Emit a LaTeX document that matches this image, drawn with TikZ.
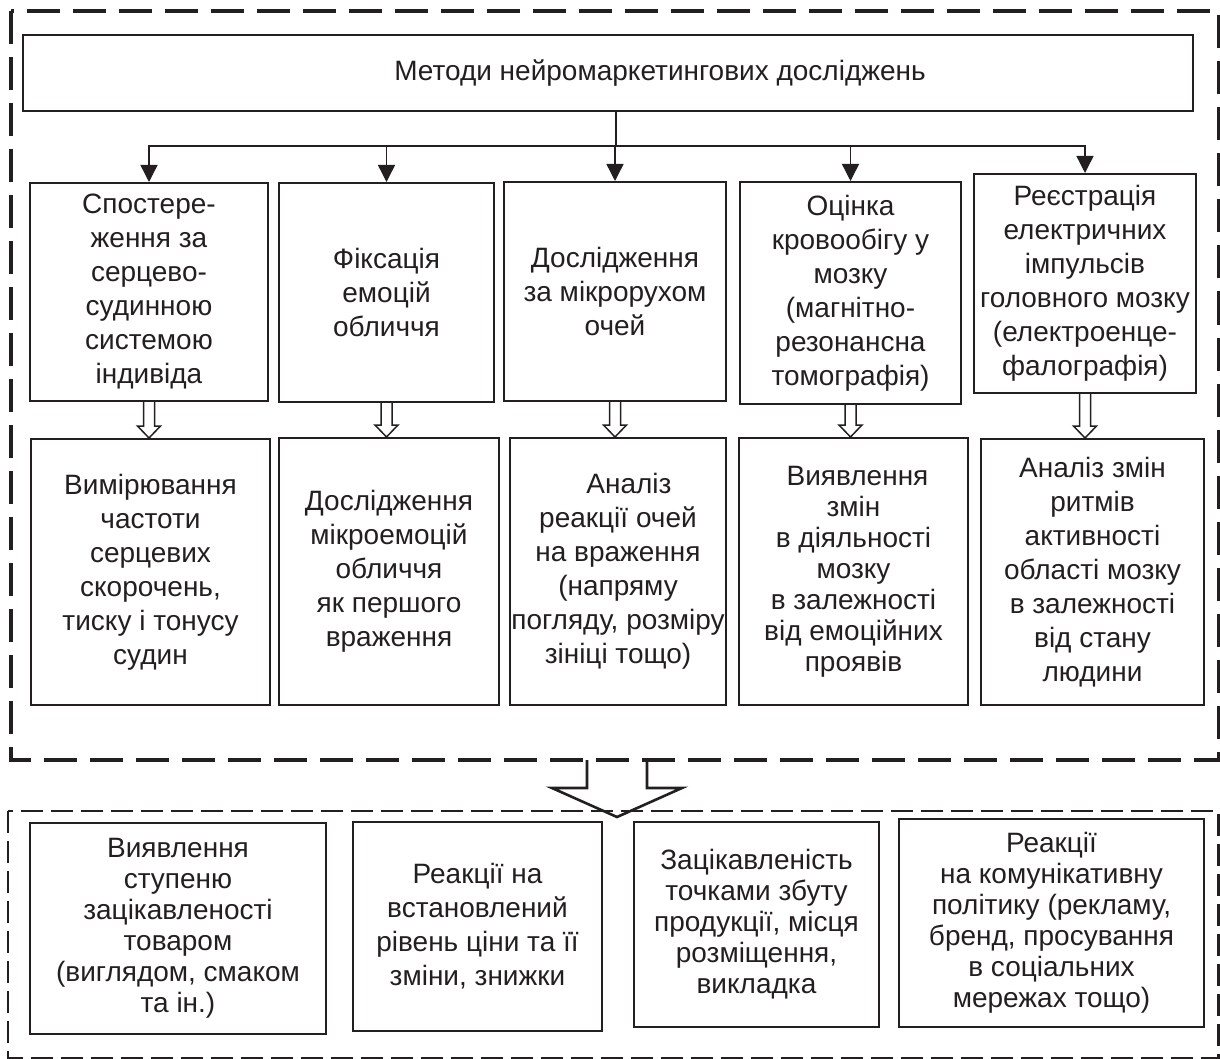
\documentclass[tikz,border=0pt]{standalone}
\usepackage{fontspec}
\setmainfont{Liberation Sans}
\usetikzlibrary{arrows.meta,calc}
\definecolor{ink}{RGB}{35,31,32}

\begin{document}
\begin{tikzpicture}[x=0.5pt,y=-0.5pt,
  every node/.style={text=ink},
  box/.style={draw=ink,line width=1pt,inner sep=2pt,align=center,
    font=\fontsize{14}{17}\selectfont},
  tight/.style={font=\fontsize{14}{15.5}\selectfont},
  feed/.style={draw=ink,line width=0.7pt,-{Triangle[length=8.5pt,width=8.5pt]}},
  hollow/.style n args={3}{draw=ink,to path={
    let \p1=(\tikztostart), \p2=(\tikztotarget) in
    (\x1-#1,\y1) -- (\x1-#1,\y2+#3) -- (\x1-#2,\y2+#3) -- (\x1,\y2)
    -- (\x1+#2,\y2+#3) -- (\x1+#1,\y2+#3) -- (\x1+#1,\y1)}},
]
  \useasboundingbox (0,0) rectangle (1220,1059);
  % the two dashed frames
  \draw[ink,line width=2pt,dash pattern=on 16.5pt off 6.5pt] (11,11) rectangle (1218.5,760);
  \draw[ink,line width=1.4pt,dash pattern=on 11pt off 4pt] (8,811) rectangle (1218.5,1058);

  \node[box,minimum width=585pt,minimum height=38pt] (top) at (608,73)
    {\hspace*{52pt}Методи нейромаркетингових досліджень};

  % methods
  \node[box,minimum width=119pt,minimum height=109pt] (s1) at (149,292)
    {Спостере-\\ження за\\серцево-\\судинною\\системою\\індивіда};
  \node[box,minimum width=107.5pt,minimum height=109.5pt] (s2) at (386.5,292.5)
    {Фіксація\\емоцій\\обличчя};
  \node[box,minimum width=111pt,minimum height=109.5pt] (s3) at (615,291.5)
    {Дослідження\\за мікрорухом\\очей};
  \node[box,minimum width=110.5pt,minimum height=111pt] (s4) at (850.5,293)
    {Оцінка\\кровообігу у\\мозку\\(магнітно-\\резонансна\\томографія)};
  \node[box,minimum width=111pt,minimum height=109.5pt] (s5) at (1085,283.5)
    {Реєстрація\\електричних\\імпульсів\\головного мозку\\(електроенце-\\фалографія)};

  % what is measured
  \node[box,minimum width=119.5pt,minimum height=133pt] (r1) at (150.5,572)
    {Вимірювання\\частоти\\серцевих\\скорочень,\\тиску і тонусу\\судин};
  \node[box,minimum width=110pt,minimum height=133.5pt] (r2) at (389,571.5)
    {Дослідження\\мікроемоцій\\обличчя\\як першого\\враження};
  \node[box,minimum width=108pt,minimum height=133.5pt] (r3) at (618,571.5)
    {\hspace*{11pt}Аналіз\\реакції очей\\на враження\\(напряму\\\makebox[100pt]{погляду, розміру}\\зініці тощо)};
  \node[box,tight,minimum width=114.5pt,minimum height=133.5pt] (r4) at (853.5,571.5)
    {\hspace*{4pt}Виявлення\\змін\\в діяльності\\мозку\\в залежності\\від емоційних\\проявів};
  \node[box,minimum width=111.5pt,minimum height=133pt] (r5) at (1092.5,572)
    {Аналіз змін\\ритмів\\активності\\області мозку\\в залежності\\від стану\\людини};

  % results
  \node[box,tight,minimum width=148pt,minimum height=105.5pt] (b1) at (178,928.5)
    {Виявлення\\ступеню\\зацікавленості\\товаром\\(виглядом, смаком\\та ін.)};
  \node[box,minimum width=124.5pt,minimum height=104.5pt] (b2) at (477.5,926.5)
    {Реакції на\\встановлений\\рівень ціни та її\\зміни, знижки};
  \node[box,tight,minimum width=122.5pt,minimum height=102.5pt] (b3) at (756.5,924.5)
    {Зацікавленість\\точками збуту\\продукції, місця\\розміщення,\\викладка};
  \node[box,tight,minimum width=152.5pt,minimum height=104pt] (b4) at (1051.5,923)
    {Реакції\\на комунікативну\\політику (рекламу,\\бренд, просування\\в соціальних\\мережах тощо)};

  % connectors
  \coordinate (bus) at (616,146);
  \draw[ink,line width=0.7pt] (bus |- top.south) -- (bus);
  \foreach \n in {s1,s2,s3,s4,s5}
    \draw[feed] (bus) -| (\n.north);
  \foreach \n/\m in {s1/r1,s2/r2,s3/r3,s4/r4,s5/r5}
    \draw[hollow={2.75pt}{5.75pt}{6pt},line width=0.75pt] (\n.south) to (\m.north);

  \coordinate (gate) at (617,760);
  \coordinate (sink) at (617,817);
  \draw[hollow={15pt}{32.5pt}{14.5pt},line width=1.3pt] (gate) to (sink);
\end{tikzpicture}
\end{document}
